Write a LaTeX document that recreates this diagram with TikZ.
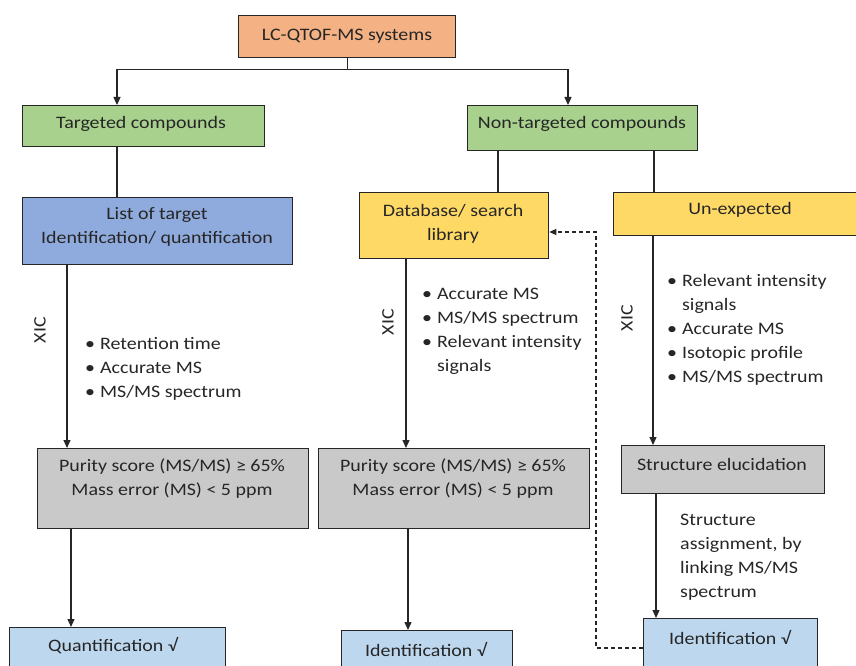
\documentclass[tikz,border=0pt]{standalone}
\usepackage{fontspec}
\setmainfont{Carlito}[FakeStretch=1.14]
\usetikzlibrary{arrows.meta,calc}
\definecolor{cOrange}{HTML}{F4B183}
\definecolor{cGreen}{HTML}{A9D18E}
\definecolor{cBlue}{HTML}{8FAADC}
\definecolor{cYellow}{HTML}{FFD966}
\definecolor{cGray}{HTML}{C9C9C9}
\definecolor{cLight}{HTML}{BDD7EE}
\definecolor{cLine}{HTML}{262626}
\newcommand{\myblist}[1]{\begin{tabular}{@{}l@{\hspace{5pt}}l@{}}#1\end{tabular}}
\begin{document}
\begin{tikzpicture}[x=1pt,y=-1pt,
  box/.style={draw=cLine, line width=1.3pt, rectangle, anchor=north west, inner sep=0pt},
  txt/.style={font=\fontsize{17.5}{24}\selectfont, align=center, inner sep=0pt, text=cLine},
  conn/.style={line width=1.2pt, draw=cLine},
  arr/.style={conn, -{Triangle[length=8pt,width=7pt]}},
  dashconn/.style={conn, dash pattern=on 4pt off 3pt, -{Triangle[length=7pt,width=6pt]}},
]
\useasboundingbox (0,0) rectangle (856,666);
\begin{scope}
\clip (0,0) rectangle (856,666);
% boxes
\node[box, fill=cOrange, minimum width=217pt, minimum height=42pt] (lc) at (238,15) {};
\node[box, fill=cGreen, minimum width=242pt, minimum height=41pt] (targ) at (22,105) {};
\node[box, fill=cGreen, minimum width=230pt, minimum height=45pt] (nontarg) at (467,105) {};
\node[box, fill=cBlue, minimum width=270pt, minimum height=67pt] (list) at (22,197) {};
\node[box, fill=cYellow, minimum width=189pt, minimum height=66pt] (db) at (359,192) {};
\node[box, fill=cYellow, minimum width=254pt, minimum height=43pt] (unexp) at (613,192) {};
\node[box, fill=cGray, minimum width=271pt, minimum height=80pt] (pur1) at (37,448) {};
\node[box, fill=cGray, minimum width=271pt, minimum height=80pt] (pur2) at (318,448) {};
\node[box, fill=cGray, minimum width=203pt, minimum height=48pt] (struct) at (621,445) {};
\node[box, fill=cLight, minimum width=216pt, minimum height=50pt] (quant) at (9,627) {};
\node[box, fill=cLight, minimum width=171pt, minimum height=50pt] (ident2) at (341,630) {};
\node[box, fill=cLight, minimum width=174pt, minimum height=60pt] (ident3) at (643,618) {};
\end{scope}
% box texts
\node[txt] (lct) at (347,36) {LC-QTOF-MS systems};
\node[txt] (targt) at (141,124) {Targeted compounds};
\node[txt] (nontargt) at (582,124) {Non-targeted compounds};
\node[txt] (listt) at (157,226.5) {List of target\\Identification/ quantification};
\node[txt] (dbt) at (453,224) {Database/ search\\library};
\node[txt] (unexpt) at (740,210) {Un-expected};
\node[txt] (pur1t) at (172,479) {Purity score (MS/MS) ≥ 65\%\\Mass error (MS) < 5 ppm};
\node[txt] (pur2t) at (453,479) {Purity score (MS/MS) ≥ 65\%\\Mass error (MS) < 5 ppm};
\node[txt] (structt) at (722,464) {Structure elucidation};
\node[txt] (quantt) at (113,646) {Quantification √};
\node[txt] (ident2t) at (426,649) {Identification √};
\node[txt] (ident3t) at (730,637) {Identification √};
% XIC labels
\node[txt, rotate=90] (xic1) at (40,330) {XIC};
\node[txt, rotate=90] (xic2) at (388,322) {XIC};
\node[txt, rotate=90] (xic3) at (627,318) {XIC};
% bullet lists
\node[txt, anchor=west, align=left] (bl1) at (85,368.5) {\myblist{• & Retention time\\ • & Accurate MS\\ • & MS/MS spectrum}};
\node[txt, anchor=west, align=left] (bl2) at (422,331) {\myblist{• & Accurate MS\\ • & MS/MS spectrum\\ • & Relevant intensity\\ & signals}};
\node[txt, anchor=west, align=left] (bl3) at (667,330) {\myblist{• & Relevant intensity\\ & signals\\ • & Accurate MS\\ • & Isotopic profile\\ • & MS/MS spectrum}};
\node[txt, anchor=west, align=left] (assign) at (680,557) {Structure\\assignment, by\\linking MS/MS\\spectrum};
% connectors
\coordinate (split) at ($(lc.south)+(0,11)$);
\draw[conn] (lc.south) -- (split);
\draw[arr] (split) -| ([xshift=95pt]targ.north west);
\draw[arr] (split) -| ([xshift=101pt]nontarg.north west);
\draw[conn] ([xshift=95pt]targ.south west) -- ([xshift=95pt]list.north west);
\draw[conn] ([xshift=31pt]nontarg.south west) -- ([xshift=139pt]db.north west);
\draw[conn] ([xshift=187pt]nontarg.south west) -- ([xshift=41pt]unexp.north west);
\draw[arr] ([xshift=45pt]list.south west) -- ([xshift=30pt]pur1.north west);
\draw[arr] ([xshift=47pt]db.south west) -- ([xshift=88pt]pur2.north west);
\draw[arr] ([xshift=40pt]unexp.south west) -- ([xshift=32pt]struct.north west);
\draw[arr] ([xshift=34pt]pur1.south west) -- ([xshift=62pt]quant.north west);
\draw[arr] ([xshift=90pt]pur2.south west) -- ([xshift=67pt]ident2.north west);
\draw[arr] ([xshift=35pt]struct.south west) -- ([xshift=13pt]ident3.north west);
\draw[dashconn] ([yshift=-30pt]ident3.north west) -- ++(-47,0) |- ([yshift=-40pt]db.north east);
\end{tikzpicture}
\end{document}
